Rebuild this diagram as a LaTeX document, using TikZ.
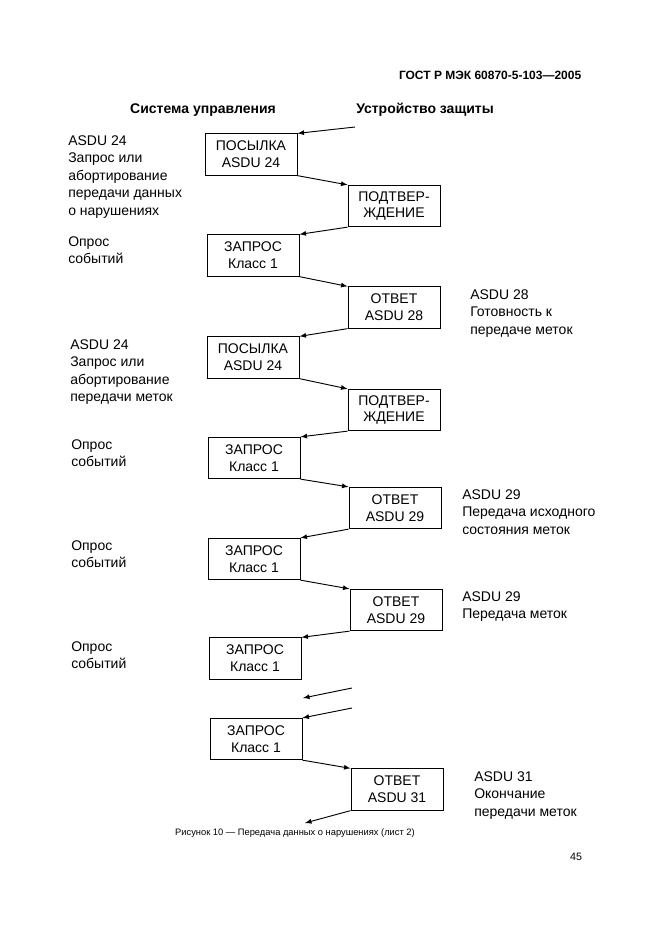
\documentclass[tikz,border=0pt]{standalone}
\usepackage{fontspec}
\setmainfont{Liberation Sans}
\begin{document}
\begin{tikzpicture}[x=0.75pt,y=-0.75pt,
 box/.style={draw,line width=0.7pt,minimum width=69pt,minimum height=31pt,inner sep=0pt,align=center,font=\fontsize{10.5}{12.5}\selectfont},
 lbl/.style={anchor=north west,align=left,inner sep=0pt,font=\fontsize{10.5}{13.2}\selectfont},
 ar/.style={-latex,line width=0.7pt}]
\useasboundingbox (0,0) rectangle (661,936);
\node[anchor=east,font=\bfseries\fontsize{9}{11}\selectfont] (hdr) at (586,75) {ГОСТ Р МЭК 60870-5-103---2005};
\node[font=\bfseries\fontsize{10.5}{12}\selectfont] (h1) at (203,110) {Система управления};
\node[font=\bfseries\fontsize{10.5}{12}\selectfont] (h2) at (425,110) {Устройство защиты};
\def\L{253}\def\R{395}
\node[box] (b1) at (251,154.5) {ПОСЫЛКА\\ASDU 24};
\node[box] (b2) at (394,206) {ПОДТВЕР-\\ЖДЕНИЕ};
\node[box] (b3) at (253,255.5) {ЗАПРОС\\Класс 1};
\node[box] (b4) at (394,307.5) {ОТВЕТ\\ASDU 28};
\node[box] (b5) at (253,357.5) {ПОСЫЛКА\\ASDU 24};
\node[box] (b6) at (394,410) {ПОДТВЕР-\\ЖДЕНИЕ};
\node[box] (b7) at (254,458) {ЗАПРОС\\Класс 1};
\node[box] (b8) at (395,508) {ОТВЕТ\\ASDU 29};
\node[box] (b9) at (254,559) {ЗАПРОС\\Класс 1};
\node[box] (b10) at (396,610) {ОТВЕТ\\ASDU 29};
\node[box] (b11) at (255,658.5) {ЗАПРОС\\Класс 1};
\node[box] (b12) at (256,739) {ЗАПРОС\\Класс 1};
\node[box] (b13) at (397,789.5) {ОТВЕТ\\ASDU 31};
\coordinate (s0) at (355,127);
\coordinate (s1) at (352,688); \coordinate (e1) at (303,698);
\coordinate (s2) at (352,708);
\coordinate (e3) at (305,823);
\draw[ar] (s0) -- (b1.north east);
\draw[ar] (b1.south east) -- (b2.north west);
\draw[ar] (b2.south west) -- (b3.north east);
\draw[ar] (b3.south east) -- (b4.north west);
\draw[ar] (b4.south west) -- (b5.north east);
\draw[ar] (b5.south east) -- (b6.north west);
\draw[ar] (b6.south west) -- (b7.north east);
\draw[ar] (b7.south east) -- (b8.north west);
\draw[ar] (b8.south west) -- (b9.north east);
\draw[ar] (b9.south east) -- (b10.north west);
\draw[ar] (b10.south west) -- (b11.north east);
\draw[ar] (s1) -- (e1);
\draw[ar] (s2) -- (b12.north east);
\draw[ar] (b12.south east) -- (b13.north west);
\draw[ar] (b13.south west) -- (e3);
\node[lbl] (l1) at (68,135) {ASDU 24\\Запрос или\\абортирование\\передачи данных\\о нарушениях};
\node[lbl] (l2) at (68,236) {Опрос\\событий};
\node[lbl] (l3) at (470,289) {ASDU 28\\Готовность к\\передаче меток};
\node[lbl] (l4) at (70,339) {ASDU 24\\Запрос или\\абортирование\\передачи меток};
\node[lbl] (l5) at (71,439) {Опрос\\событий};
\node[lbl] (l6) at (462,489) {ASDU 29\\Передача исходного\\состояния меток};
\node[lbl] (l7) at (71,540) {Опрос\\событий};
\node[lbl] (l8) at (462,591) {ASDU 29\\Передача меток};
\node[lbl] (l9) at (71,641) {Опрос\\событий};
\node[lbl] (l10) at (474,771) {ASDU 31\\Окончание\\передачи меток};
\node[font=\fontsize{7}{9}\selectfont] (cap) at (295,833) {Рисунок 10 --- Передача данных о нарушениях (лист 2)};
\node[font=\fontsize{8}{10}\selectfont] (pg) at (576,857) {45};
\end{tikzpicture}
\end{document}
